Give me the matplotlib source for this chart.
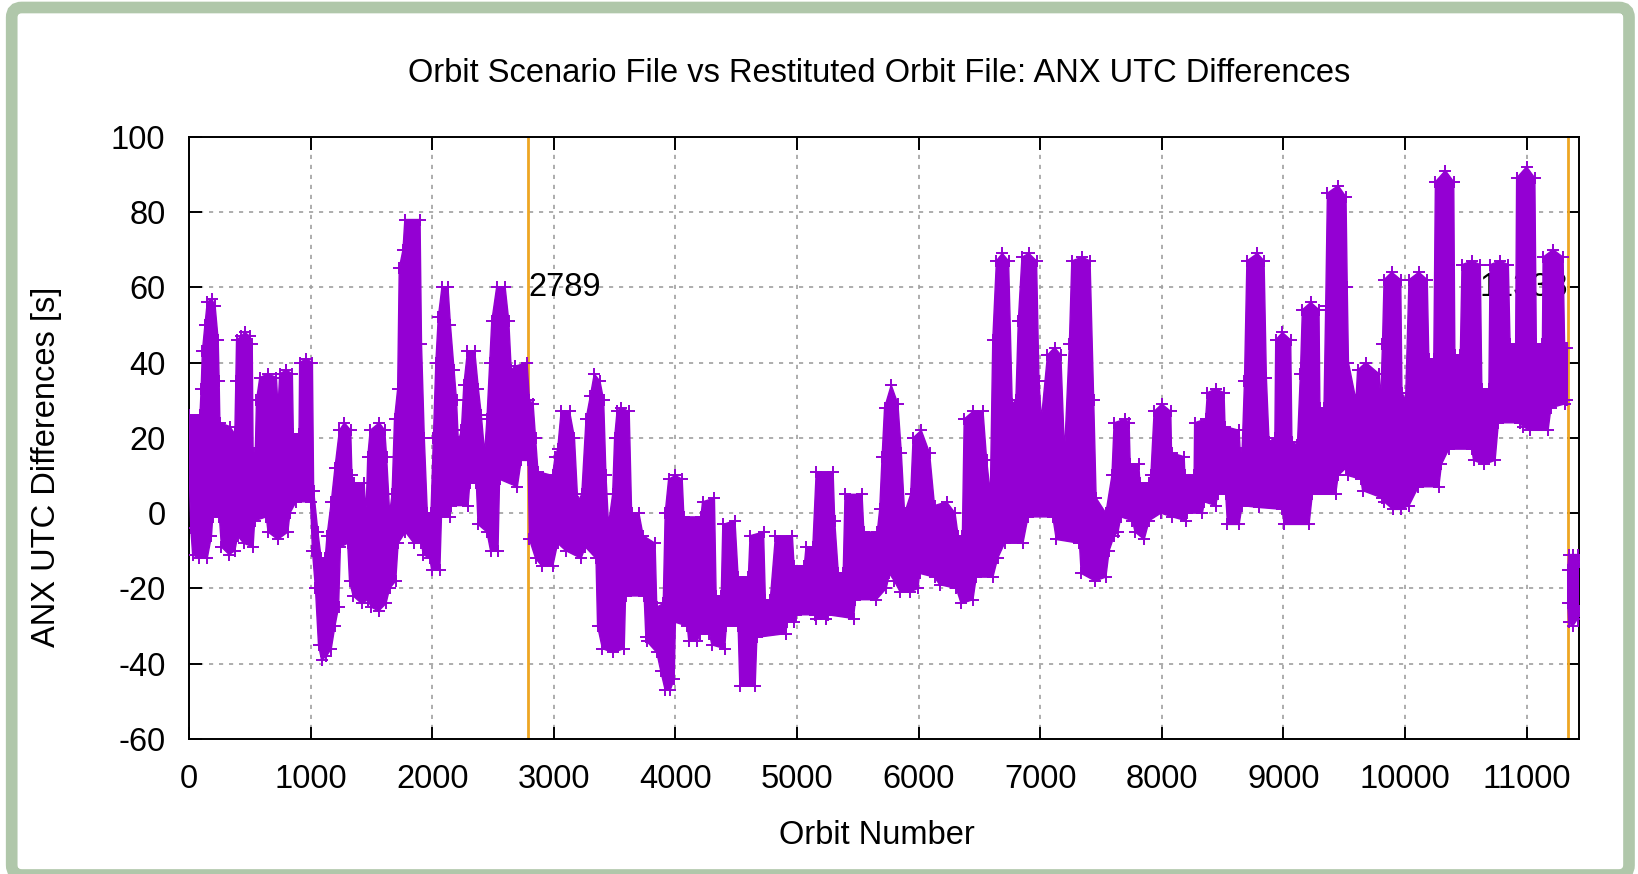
import numpy as np
import matplotlib
matplotlib.use('Agg')
from matplotlib import pyplot as plt
from matplotlib import rcParams
from matplotlib.patches import FancyBboxPatch
from matplotlib.transforms import IdentityTransform

rcParams['font.family'] = ['Liberation Sans', 'DejaVu Sans']
rcParams['font.size'] = 23.5
rcParams['axes.unicode_minus'] = False


# upper edge of the ANX UTC difference band (orbit, s)
upper_orbit = [
    0, 90, 100, 110, 131, 150, 186, 215, 240, 248, 254, 336, 377, 385, 391,
    430, 459, 500, 520, 527, 545, 555, 582, 650, 719, 732, 746, 800, 850, 858,
    905, 910, 964, 1015, 1025, 1060, 1087, 1120, 1135, 1170, 1200, 1237, 1278,
    1330, 1340, 1360, 1440, 1456, 1470, 1490, 1565, 1610, 1625, 1650, 1670,
    1690, 1716, 1729, 1760, 1775, 1900, 1912, 1935, 1960, 1990, 2010, 2030,
    2050, 2080, 2130, 2150, 2180, 2200, 2215, 2240, 2260, 2290, 2350, 2380,
    2404, 2431, 2450, 2473, 2490, 2530, 2600, 2630, 2650, 2680, 2780, 2800,
    2830, 2850, 2870, 2990, 3010, 3032, 3060, 3130, 3170, 3197, 3230, 3265,
    3300, 3333, 3380, 3410, 3429, 3450, 3484, 3500, 3520, 3552, 3620, 3640,
    3700, 3735, 3833, 3847, 3900, 3916, 3944, 4000, 4056, 4070, 4210, 4223,
    4321, 4335, 4377, 4390, 4490, 4516, 4600, 4614, 4725, 4740, 4780, 4823,
    4962, 4976, 5060, 5074, 5130, 5158, 5297, 5310, 5340, 5380, 5395, 5535,
    5550, 5660, 5680, 5700, 5720, 5775, 5830, 5858, 5885, 5935, 5955, 6022,
    6090, 6131, 6230, 6300, 6325, 6360, 6375, 6447, 6530, 6560, 6590, 6610,
    6640, 6688, 6740, 6770, 6800, 6820, 6850, 6907, 6970, 6990, 7010, 7060,
    7118, 7170, 7200, 7240, 7260, 7345, 7410, 7440, 7460, 7540, 7590, 7608,
    7700, 7731, 7740, 7811, 7820, 7896, 7910, 7937, 8000, 8074, 8080, 8184,
    8190, 8266, 8270, 8360, 8375, 8444, 8512, 8520, 8636, 8645, 8660, 8680,
    8700, 8786, 8841, 8860, 8882, 8930, 8937, 8992, 9060, 9070, 9115, 9140,
    9156, 9225, 9293, 9300, 9334, 9348, 9362, 9450, 9515, 9525, 9535, 9597,
    9610, 9678, 9787, 9800, 9815, 9828, 9891, 9965, 9975, 10005, 10033, 10114,
    10183, 10196, 10237, 10250, 10332, 10401, 10410, 10455, 10469, 10550,
    10619, 10632, 10690, 10700, 10782, 10850, 10864, 10910, 10918, 11000,
    11068, 11080, 11130, 11136, 11218, 11300, 11313, 11335,
]
upper_diff = [
    26, 26, 33, 43, 50, 56, 57, 55, 46, 35, 24, 23, 21, 35, 46,
    47, 48, 47, 45, 16, 16, 30, 36, 37, 36, 28, 37, 38, 37, 21,
    21, 40, 41, 40, 6, -5, -12, -12, -6, 3, 12, 22, 24,
    22, 10, 8, 8, 0, 15, 22, 24, 22, 15, 0, 5,
    25, 33, 65, 70, 78, 78, 45, 20, 0, 0, 20, 40,
    52, 60, 60, 50, 38, 30, 19, 22, 34, 43, 43, 33,
    26, 16, 25, 40, 51, 60, 60, 51, 38, 39, 40, 30,
    29, 20, 11, 10, 15, 17, 27, 27, 20, 3, 5, 25,
    31, 37, 35, 30, 10, -3, 5, 20, 27, 28, 27, 0,
    0, -6, -8, -25, -24, 0, 9, 10, 9, -1, -1, 3,
    4, -22, -22, -3, -2, -17, -17, -6, -5, -23, -23, -6,
    -6, -14, -14, -9, -9, 11, 11, -2, -16, -16, 5, 5,
    -5, -5, 1, 15, 28, 34, 29, 16, 0, 5, 20, 22,
    16, 2, 3, 0, -6, -6, 25, 27, 27, 14, 5, 46,
    67, 69, 67, 29, 30, 51, 68, 69, 67, 35, 25, 42,
    44, 42, 16, 45, 67, 68, 67, 30, 4, 0, 10, 24,
    25, 24, 13, 13, 8, 8, 10, 27, 29, 27, 16, 15,
    10, 10, 24, 25, 32, 33, 32, 23, 22, 16, 16, 35,
    67, 69, 67, 36, 19, 20, 46, 48, 46, 19, 18, 37,
    54, 56, 54, 28, 28, 55, 85, 87, 84, 60, 40, 30,
    38, 40, 37, 30, 45, 62, 64, 62, 32, 30, 62, 64,
    62, 41, 41, 88, 91, 88, 42, 42, 66, 67,
    66, 33, 33, 66, 67, 66, 45, 45, 89, 92,
    89, 45, 45, 68, 70, 68, 44, 44,
]

# lower edge of the band (orbit, s)
lower_orbit = [
    0, 15, 30, 80, 150, 185, 195, 250, 267, 330, 377, 400, 450, 527, 540,
    636, 650, 730, 813, 830, 880, 1000, 1015, 1040, 1065, 1090, 1130, 1170,
    1200, 1230, 1245, 1305, 1320, 1350, 1420, 1470, 1500, 1560, 1620, 1650,
    1700, 1720, 1780, 1850, 1912, 1926, 1981, 1995, 2063, 2076, 2145, 2158,
    2295, 2309, 2363, 2377, 2450, 2480, 2541, 2554, 2700, 2732, 2789, 2800,
    2850, 2900, 2992, 3032, 3100, 3224, 3260, 3347, 3360, 3400, 3484, 3579,
    3590, 3743, 3757, 3763, 3847, 3880, 3916, 3958, 3990, 4000, 4098, 4110,
    4181, 4200, 4280, 4300, 4405, 4419, 4516, 4530, 4656, 4670, 4907, 4920,
    4976, 4990, 5144, 5158, 5241, 5255, 5465, 5480, 5652, 5734, 5760, 5800,
    5850, 5926, 5995, 6008, 6131, 6173, 6310, 6350, 6447, 6474, 6611, 6650,
    6707, 6858, 6900, 7104, 7132, 7323, 7337, 7450, 7540, 7567, 7608, 7640,
    7663, 7759, 7780, 7855, 7896, 7992, 8088, 8197, 8210, 8334, 8350, 8444,
    8460, 8526, 8540, 8636, 8660, 8800, 8992, 9005, 9211, 9238, 9430, 9450,
    9515, 9530, 9638, 9651, 9815, 9830, 9900, 9965, 10033, 10110, 10278,
    10300, 10360, 10550, 10564, 10650, 10741, 10768, 10946, 10970, 11027,
    11177, 11200, 11313, 11335,
]
lower_diff = [
    12, -4, -11, -12, -12, -6, -1, -1, -9, -11, -10, -6, -8, -9, -2,
    -1, -5, -7, -5, 0, 3, 3, -10, -20, -35, -39, -38, -36,
    -30, -25, -9, -8, -18, -22, -24, -23, -25, -26, -24, -20,
    -18, -8, -5, -8, -8, -11, -12, -15, -15, -1, -1, 2,
    2, 8, 8, -3, -5, -10, -10, 9, 7, 14, 14, -7,
    -12, -14, -14, -8, -10, -12, -9, -12, -30, -36, -37, -36,
    -22, -22, -33, -34, -37, -42, -47, -47, -44, -29, -30, -34,
    -34, -32, -32, -35, -36, -30, -30, -46, -46, -33, -32, -29,
    -29, -27, -27, -28, -28, -27, -28, -23, -23, -20, -16, -18,
    -21, -21, -20, -16, -17, -19, -20, -24, -23, -17, -17, -12,
    -8, -8, -1, -1, -7, -8, -16, -18, -17, -10, -6, -5,
    -1, -2, -5, -7, -2, 0, -1, -2, 0, 0, 3, 2,
    5, 5, -3, -3, 2, 1.5, 1, -3, -3, 5, 5, 10,
    12, 10, 9, 6, 4, 3, 1, 1, 2, 7, 7,
    13, 17, 17, 14, 13, 14, 24, 24, 23, 22,
    22, 28, 29, 30,
]

# short stretch after the second event
tail_orbit = [11338, 11345, 11380, 11420, 11431]
tail_upper = [-15, -11, -11, -11, -13]
tail_lower = [-24, -29, -30, -28, -26]

events = [2789, 11338]
x_ticks = list(range(0, 11001, 1000))
y_ticks = list(range(-60, 101, 20))

purple = '#9400d3'
orange = '#eea623'

fig = plt.figure(figsize=(16.38, 8.74), dpi=100)
ax = fig.add_axes([189 / 1638, 1 - 739 / 874, 1390 / 1638, 602.3 / 874])

# filled band plus the '+' points along its edges
ax.fill(np.r_[upper_orbit, lower_orbit[::-1]], np.r_[upper_diff, lower_diff[::-1]],
        color=purple, lw=1, zorder=3)
ax.fill(np.r_[tail_orbit, tail_orbit[::-1]], np.r_[tail_upper, tail_lower[::-1]],
        color=purple, lw=1, zorder=3)
for xs, ys in [(upper_orbit, upper_diff), (lower_orbit, lower_diff),
               (tail_orbit, tail_upper), (tail_orbit, tail_lower)]:
    ax.plot(xs, ys, '+', ms=8, mew=1.4, color=purple, zorder=3)

# event markers
for ev in events:
    ax.axvline(ev, color=orange, lw=2, zorder=2)
ax.text(events[0], 60, str(events[0]), ha='left', va='center', zorder=1)
ax.text(events[1], 60, str(events[1]), ha='right', va='center', zorder=1)

ax.set_xlim(0, 11431)
ax.set_ylim(-60, 100)
ax.set_xticks(x_ticks)
ax.set_yticks(y_ticks)
ax.set_axisbelow(True)
ax.grid(True, color='#a0a0a0', ls=(0, (2.5, 3.5)), lw=1.2)
ax.tick_params(direction='in', length=9, width=1.4, top=True, right=True, labelsize=23.5)
ax.tick_params(axis='x', pad=18)
ax.tick_params(axis='y', pad=17)
for sp in ax.spines.values():
    sp.set_linewidth(1.4)

fig.text(879 / 1638, 1 - 73 / 874, 'Orbit Scenario File vs Restituted Orbit File: ANX UTC Differences',
         ha='center', va='center')
fig.text(877 / 1638, 1 - 836 / 874, 'Orbit Number', ha='center', va='center')
fig.text(47 / 1638, 1 - 467 / 874, 'ANX UTC Differences [s]', ha='center', va='center',
         rotation=90)

# light green rounded frame round the whole picture
frame = FancyBboxPatch((11.7, -1), 1629 - 11.7, 867.5, boxstyle='round,pad=0,rounding_size=10',
                       transform=IdentityTransform(), fill=False, ec='#b0c7aa', lw=8.4)
fig.patches.append(frame)

fig.savefig('out.png', dpi=100)
